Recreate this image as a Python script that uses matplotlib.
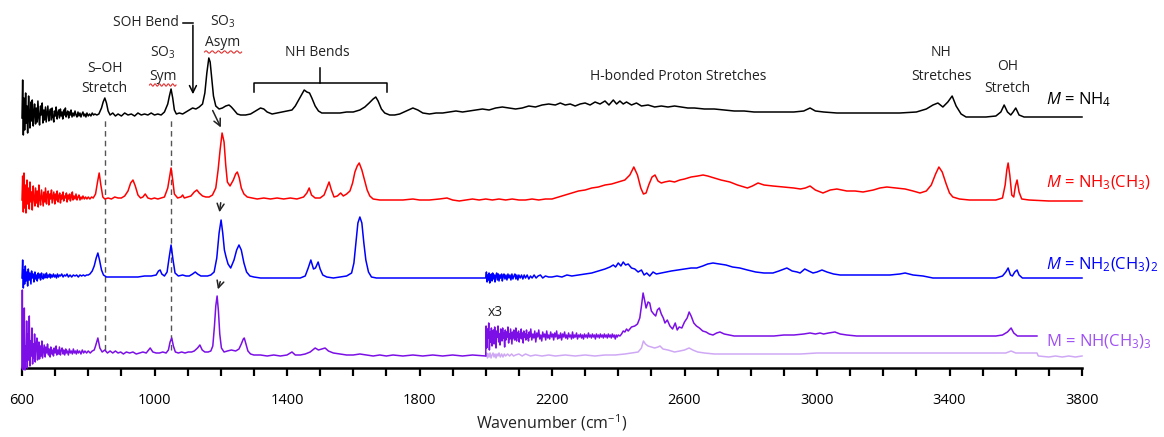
import numpy as np
import matplotlib
matplotlib.use("Agg")
import matplotlib.pyplot as plt

plt.rcParams['font.family'] = ['Open Sans', 'DejaVu Sans']
plt.rcParams['mathtext.fontset'] = 'custom'
plt.rcParams['mathtext.rm'] = 'Open Sans'
plt.rcParams['mathtext.it'] = 'Open Sans:italic'
plt.rcParams['mathtext.default'] = 'regular'

# ---------------- data: (wavenumber cm-1, intensity above trace baseline) ----------------
nh4 = [(600,0),(602,38),(604,-17),(606,20),(608,-12),(611,25),(613,-5),(615,12),(617,-15),(620,22),(622,2),
       (624,-10),(627,16),(629,-3),(631,18),(634,-8),(636,6),(638,14),(641,-6),(643,10),(646,-4),(648,17),
       (651,0),(653,-7),(656,12),(658,3),(661,15),(663,-5),(666,8),(668,-2),(671,11),(673,-4),(676,6),(678,12),
       (681,-3),(683,5),(686,9),(688,-2),(691,10),(693,1),(696,-4),(698,7),(701,2),(703,11),(706,-1),(708,5),
       (711,8),(713,0),(716,9),(718,2),(721,6),(723,-1),(726,8),(728,3),(731,10),(733,1),(736,5),(738,7),
       (741,0),(743,6),(746,3),(748,8),(751,1),(754,5),(757,2),(760,7),(763,3),(766,1),(769,6),(772,2),(775,5),
       (778,1),(781,4),(784,6),(787,2),(790,4),(793,1),(796,5),(800,2),(804,4),(808,2),(812,5),(816,3),(820,4),
       (826,3),(832,4),(840,10),(845,16),(850,20),(855,15),
       (860,7),(866,3),(874,5),(882,2),(890,4),(900,2),(910,5),(920,3),(930,4),(940,2),(950,5),(960,3),
       (970,4),(980,3),(990,5),(1000,3),(1010,4),(1020,3),(1030,6),(1040,14),(1045,22),(1050,29),(1055,20),
       (1060,8),(1066,4),(1075,5),(1085,4),(1095,6),(1105,8),(1115,10),(1125,9),(1135,11),(1145,14),(1152,25),
       (1158,45),(1164,60),(1168,56),(1172,42),(1178,22),(1185,12),(1195,9),(1205,10),(1215,12),(1225,13),
       (1232,11),(1240,8),(1250,4),(1260,3),(1275,3),(1290,4),(1300,6),(1310,8),(1320,10),(1330,9),(1340,6),
       (1355,4),(1370,5),(1385,6),(1400,7),(1415,8),(1425,12),(1435,18),(1445,24),(1452,28),(1460,26),
       (1468,25),(1475,20),(1485,12),(1495,7),(1505,5),(1520,5),(1540,5),(1560,5),(1580,6),(1600,6),(1620,8),
       (1635,11),(1648,15),(1660,19),(1668,21),(1675,17),(1685,9),(1695,5),(1710,3),(1725,3),(1740,4),
       (1760,7),(1780,10),(1795,8),(1810,5),(1830,4),(1850,5),(1870,5),(1890,6),(1910,7),(1930,6),(1950,7),
       (1970,8),(1990,9),(2010,8),(2030,10),(2050,11),(2070,10),(2090,9),(2110,10),(2130,12),(2150,11),
       (2170,13),(2190,14),(2210,13),(2225,15),(2240,13),(2255,14),(2270,12),(2285,14),(2300,15),(2315,13),
       (2330,16),(2345,14),(2360,17),(2372,13),(2385,18),(2395,14),(2405,17),(2415,14),(2425,16),(2440,13),
       (2455,15),(2470,12),(2490,13),(2510,11),(2530,12),(2550,11),(2570,12),(2590,11),(2610,10),(2630,10),
       (2660,9),(2690,9),(2720,8),(2750,7),(2780,7),(2810,6),(2840,6),(2870,6),(2900,6),(2930,6),(2960,7),
       (2979,10),(2995,7),(3020,6),(3060,5),(3100,5),(3150,5),(3200,5),(3250,5),(3300,6),(3330,9),(3350,13),
       (3365,15),(3380,11),(3395,16),(3408,22),(3420,12),(3435,4),(3450,1),(3480,1),(3510,1),(3540,2),
       (3555,6),(3565,13),(3575,6),(3585,3),(3592,6),(3600,10),(3610,3),(3625,1),(3660,1),(3700,1),(3740,1),
       (3800,1)]

nh3ch3 = [(600,0),(602,24),(604,-12),(606,27),(608,-8),(610,15),(612,-13),(615,20),(617,-4),(619,12),
       (622,-9),(624,18),(627,-2),(629,8),(631,-10),(634,14),(636,2),(639,-6),(641,12),(644,-3),(646,9),
       (649,-7),(651,15),(654,0),(656,-5),(659,10),(661,4),(664,-6),(666,8),(669,-2),(671,12),(674,-4),
       (676,5),(679,9),(681,-5),(684,6),(686,1),(689,10),(691,-3),(694,4),(696,8),(699,-4),(701,6),(704,0),
       (706,9),(709,-2),(711,4),(714,7),(716,-3),(719,5),(721,1),(724,8),(726,-1),(729,4),(731,2),(734,7),
       (736,-2),(739,5),(741,1),(744,6),(746,-1),(749,3),(752,8),(754,0),(757,4),(760,1),(763,6),(766,0),
       (769,3),(772,5),(775,0),(778,3),(781,1),(784,4),(788,1),(792,3),(796,1),(800,3),(805,1),(810,3),
       (815,2),(822,6),(828,18),(833,27),(838,15),(844,3),(850,1),(860,2),(870,1),
       (880,3),(890,2),(900,2),(910,4),(920,9),(928,17),(935,20),(942,14),(950,5),(958,2),(965,3),(972,6),
       (980,2),(990,1),(1000,2),(1010,1),(1020,2),(1030,3),(1040,12),(1045,22),(1050,32),(1055,20),(1060,6),
       (1070,2),(1080,3),(1085,5),(1090,2),(1100,3),(1110,4),(1120,8),(1128,10),(1135,7),(1145,4),(1155,3),
       (1165,3),(1175,5),(1185,12),(1192,30),(1198,50),(1204,67),(1210,58),(1215,35),(1220,18),(1228,14),
       (1238,20),(1245,26),(1250,28),(1256,22),(1262,12),(1270,6),(1280,3),(1295,2),(1310,1),(1330,2),
       (1350,1),(1370,2),(1390,1),(1410,2),(1430,1),(1450,3),(1460,7),(1467,12),(1474,5),(1485,2),(1500,2),
       (1512,5),(1520,12),(1527,18),(1534,10),(1542,3),(1552,4),(1562,7),(1570,4),(1580,6),(1590,9),
       (1598,17),(1605,28),(1612,34),(1618,37),(1626,30),(1634,20),(1642,10),(1650,4),(1660,1),(1680,0),
       (1700,0),(1720,0),(1750,0),(1780,1),(1800,0),(1830,0),(1860,1),(1883,2),(1900,0),(1920,-1),(1940,0),
       (1960,1),(1980,0),(2000,1),(2020,0),(2040,1),(2060,0),(2080,1),(2100,0),(2120,0),(2140,1),(2160,0),
       (2180,1),(2200,1),(2220,3),(2240,5),(2260,7),(2280,9),(2300,10),(2320,12),(2340,13),(2360,15),
       (2380,16),(2400,18),(2420,20),(2435,25),(2447,33),(2458,25),(2468,12),(2476,6),(2484,7),(2492,15),
       (2502,23),(2511,25),(2520,19),(2530,17),(2540,18),(2555,19),(2570,18),(2586,20),(2600,21),(2620,23),
       (2640,24),(2656,25),(2670,24),(2690,22),(2710,20),(2737,18),(2760,15),(2780,13),(2790,12),(2805,14),
       (2822,17),(2840,15),(2867,14),(2900,13),(2930,12),(2950,11),(2965,12),(2979,14),(2995,10),(3018,7),
       (3040,10),(3060,11),(3090,9),(3115,9),(3139,8),(3170,10),(3190,12),(3211,13),(3240,12),(3266,11),
       (3290,9),(3311,7),(3330,9),(3345,15),(3358,26),(3368,33),(3378,28),(3390,16),(3400,7),(3410,3),
       (3430,1),(3460,0),(3500,0),(3540,0),(3560,2),(3568,15),(3573,30),(3577,37),(3582,25),(3588,5),
       (3594,3),(3599,14),(3604,20),(3610,8),(3618,1),(3640,0),(3700,-1),(3750,-1),(3800,-1)]

nh2ch32 = [(600,0),(602,18),(604,-10),(606,8),(608,-6),(610,12),(612,-3),(615,6),(617,-8),(619,9),(622,-2),
       (624,5),(627,-6),(629,7),(631,0),(634,4),(636,-4),(639,6),(641,-1),(644,3),(646,-3),(649,5),(651,0),
       (654,4),(656,-2),(659,5),(661,1),(664,-1),(666,4),(669,0),(671,3),(674,5),(676,0),(679,3),(681,1),
       (684,4),(686,0),(689,3),(692,1),(695,4),(698,1),(701,3),(704,0),(707,4),(710,1),(713,3),(716,2),
       (720,4),(724,1),(728,3),(732,2),(736,4),(740,1),(745,3),(750,1),(755,3),(760,2),(765,3),(770,1),
       (775,3),(780,2),(785,3),(790,2),(795,3),(800,3),(805,4),(812,7),(818,12),(824,20),
       (829,25),(834,18),(840,8),(846,3),(855,1),(870,1),
       (890,1),(910,1),(930,1),(950,1),(970,2),(990,2),(1005,3),(1012,7),(1017,8),(1022,4),(1030,2),
       (1038,6),(1044,20),(1050,33),(1056,18),(1062,5),(1072,2),(1085,3),(1095,2),(1105,2),(1115,4),
       (1123,6),(1130,4),(1140,2),(1150,2),(1160,2),(1170,3),(1180,6),(1188,20),(1195,45),(1201,58),
       (1206,45),(1211,28),(1216,21),(1222,14),(1230,10),(1240,18),(1248,28),(1255,33),(1262,28),(1270,15),
       (1278,6),(1288,2),(1300,1),(1320,0),(1350,0),(1380,0),(1410,0),(1440,0),(1455,2),(1464,10),
       (1472,18),(1480,9),(1486,10),(1494,16),(1500,9),(1508,3),(1520,1),(1540,0),(1560,1),(1580,2),
       (1595,5),(1602,15),(1608,35),(1614,55),(1620,61),(1626,55),(1632,35),(1638,18),(1646,6),(1655,1),
       (1670,0),(1700,0),(1750,0),(1800,0),(1850,0),(1900,0),(1950,0),(2000,0),(2002,6),(2004,-4),(2006,3),
       (2008,-2),(2010,5),(2012,-5),(2014,2),(2017,4),(2019,-3),(2021,5),(2023,-1),(2026,3),(2028,-4),
       (2030,2),(2033,5),(2035,-2),(2038,4),(2040,-3),(2043,3),(2045,0),(2048,4),(2050,-3),(2053,2),(2055,4),
       (2058,-1),(2061,3),(2064,-2),(2067,4),(2070,0),(2073,3),(2076,-2),(2079,4),(2082,-1),(2085,2),
       (2088,4),(2091,-1),(2094,3),(2097,-2),(2100,3),(2104,0),(2108,3),(2112,-1),(2116,3),(2120,0),
       (2125,3),(2130,-1),(2135,2),(2140,0),(2146,3),(2152,0),(2158,2),(2165,3),(2172,0),(2180,2),(2190,1),
       (2200,1),(2215,2),(2230,1),
       (2245,3),(2260,2),(2280,3),(2300,4),(2320,5),(2340,7),(2360,9),(2375,11),(2385,13),(2392,11),
       (2400,15),(2408,12),(2415,16),(2422,13),(2430,14),(2440,10),(2450,9),(2460,6),(2470,8),(2478,3),
       (2486,5),(2495,2),(2505,6),(2515,4),(2530,5),(2545,6),(2560,7),(2580,8),(2600,9),(2620,10),
       (2637,10),(2655,12),(2670,14),(2686,15),(2705,14),(2725,13),(2745,11),(2767,10),(2790,8),(2815,6),
       (2840,5),(2867,5),(2885,7),(2909,10),(2925,7),(2940,6),(2949,5),(2963,9),(2975,7),(2988,5),(3000,6),
       (3015,8),(3030,6),(3050,4),(3070,3),(3100,3),(3140,3),(3180,3),(3220,3),(3250,4),(3266,5),(3290,3),
       (3320,2),(3350,0),(3400,0),(3450,0),(3500,0),(3540,0),(3560,2),(3570,6),(3577,10),(3584,3),(3590,2),
       (3597,6),(3604,8),(3610,3),(3620,0),(3660,0),(3700,0),(3750,0),(3800,0)]

nhch33_low = [(600,-12),(601,66),(602,-14),(604,30),(605,-10),(607,48),(609,-14),(611,10),(613,-5),(614,35),
       (616,-12),(618,22),(620,-4),(622,40),(624,-10),(626,15),(628,0),(630,28),(632,-8),(634,12),(636,-2),
       (638,22),(640,-6),(642,8),(645,18),(647,-4),(649,6),(651,14),(653,-3),(656,10),(658,0),(660,15),
       (662,-2),(665,6),(667,11),(670,-1),(672,9),(675,3),(677,12),(680,1),(682,7),(685,-1),(687,9),(690,2),
       (692,6),(695,0),(697,8),(700,3),(703,10),(705,1),(708,6),(711,2),(713,9),(716,1),(718,5),(721,8),
       (724,2),(726,6),(729,1),(732,7),(734,3),(737,5),(740,1),(743,7),(746,3),(749,5),(752,2),(755,7),
       (758,3),(761,5),(764,2),(767,6),(770,3),(774,5),(778,2),(782,6),(786,3),(790,5),(795,3),(800,5),
       (806,3),(812,5),(818,6),(822,10),(829,18),
       (835,8),(842,4),(850,6),(858,3),(866,5),(874,3),(882,5),(890,3),(898,4),(906,2),(915,4),(925,3),
       (935,4),(945,2),(955,3),(965,4),(975,3),(987,8),(995,4),(1005,3),(1015,3),(1025,4),(1035,3),(1042,6),
       (1047,14),(1052,18),(1057,10),(1063,4),(1072,3),(1082,4),(1092,3),(1102,4),(1112,4),(1120,5),
       (1130,8),(1137,11),(1144,6),(1152,4),(1162,4),(1170,5),(1176,10),(1181,30),(1185,50),(1189,60),
       (1193,45),(1197,22),(1202,8),(1210,4),(1220,5),(1232,6),(1245,5),(1255,7),(1262,12),(1268,17),
       (1271,18),(1276,12),(1282,5),(1290,2),(1300,1),(1320,1),(1340,0),(1360,1),(1380,0),(1400,1),
       (1415,4),(1425,1),(1440,1),(1455,2),(1470,4),(1485,8),(1495,6),(1505,7),(1515,8),(1525,5),(1540,3),
       (1560,2),(1580,1),(1600,1),(1620,2),(1640,1),(1660,0),(1680,1),(1700,0),(1720,1),(1750,0),(1780,1),
       (1810,0),(1840,1),(1870,0),(1900,1),(1930,0),(1960,1),(2000,0)]

nhch33_x3 = [(2000,1),(2001,30),(2003,8),(2005,27),(2007,18),(2009,33),(2011,6),(2013,24),(2015,14),
       (2017,28),(2019,10),(2021,22),(2023,26),(2025,12),(2027,29),(2029,17),(2031,8),(2033,25),(2035,19),
       (2037,30),(2039,14),(2041,22),(2043,11),(2045,27),(2047,20),(2049,15),(2051,28),(2053,18),(2055,23),
       (2057,9),(2059,26),(2061,16),(2063,24),(2065,19),(2067,29),(2069,13),(2071,22),(2073,17),(2075,27),
       (2077,20),(2079,12),(2081,24),(2083,18),(2085,26),(2087,16),(2089,21),(2091,28),(2093,15),(2095,23),
       (2097,19),(2099,25),(2101,14),(2103,22),(2105,18),(2107,27),(2109,17),(2111,23),(2113,13),(2115,25),
       (2117,19),(2119,22),(2121,16),(2123,26),(2125,18),(2127,21),(2129,15),(2131,24),(2133,19),(2136,27),
       (2139,16),(2142,22),(2145,18),(2148,25),(2151,14),(2154,23),(2157,19),(2160,26),(2163,17),(2166,21),
       (2169,15),(2172,24),(2175,19),(2178,22),(2181,16),(2184,25),(2187,18),(2190,21),(2193,17),(2196,24),
       (2199,19),(2202,22),(2205,16),(2208,23),(2211,19),(2214,25),(2217,17),(2220,21),(2223,18),(2226,23),
       (2229,16),(2232,22),(2235,19),(2238,24),(2241,18),(2244,21),(2247,17),(2250,23),(2253,19),(2256,21),
       (2259,17),(2262,24),(2265,18),(2268,21),(2271,19),(2274,23),(2277,17),(2280,21),(2283,19),(2286,22),
       (2289,18),(2292,21),(2295,17),(2298,22),(2301,19),(2304,21),(2307,18),(2310,23),(2313,19),(2316,21),
       (2319,18),(2322,22),(2325,19),(2328,21),(2331,17),(2334,22),(2337,19),(2340,21),(2343,18),(2346,22),
       (2349,19),(2352,21),(2355,18),(2358,22),(2361,19),(2364,21),(2367,18),(2370,22),(2373,19),(2376,21),
       (2379,18),(2382,22),(2385,19),(2388,21),(2391,17),(2394,21),(2397,19),(2400,21),(2405,20),
       (2410,22),(2415,25),(2420,24),(2425,27),(2430,25),(2440,29),(2450,30),
       (2458,32),(2465,38),(2470,50),(2475,63),(2480,55),(2484,48),(2490,54),(2495,53),(2500,45),(2507,42),
       (2513,40),(2518,46),(2524,48),(2530,42),(2536,38),(2541,33),(2548,36),(2556,30),(2564,27),(2572,33),
       (2578,26),(2584,29),(2592,28),(2600,34),(2608,38),(2614,44),(2620,40),(2628,33),(2636,30),(2645,28),
       (2655,25),(2665,24),(2675,22),(2686,21),(2697,23),(2707,24),(2720,22),(2735,21),(2750,20),(2780,20),
       (2810,20),(2840,20),(2870,20),(2900,21),(2930,21),(2960,22),(2979,23),(2995,22),(3009,23),(3020,22),
       (3035,23),(3054,24),(3070,22),(3090,21),(3120,20),(3160,20),(3200,20),(3250,20),(3300,20),(3350,20),
       (3400,20),(3450,20),(3500,20),(3540,20),(3560,21),(3575,24),(3586,28),(3594,23),(3605,20),(3630,20),
       (3664,20)]

nhch33_x1 = [(2000,0),(2003,3),(2005,-2),(2008,2),(2010,-1),(2013,3),(2016,-2),(2019,1),(2022,3),(2025,-1),
       (2028,2),(2031,-2),(2034,2),(2037,0),(2040,3),(2044,-1),(2048,2),(2052,-1),(2056,2),(2060,0),(2066,2),
       (2072,0),(2078,2),(2084,0),(2090,1),(2100,2),(2110,0),(2120,2),
       (2135,0),(2150,1),(2170,0),(2190,1),(2210,0),(2240,1),(2270,0),(2300,1),(2330,0),(2360,1),(2390,1),
       (2420,2),(2440,3),(2460,4),(2470,8),(2476,15),(2482,12),(2490,10),(2500,9),(2510,8),(2520,9),
       (2526,10),(2535,7),(2550,6),(2570,4),(2586,5),(2600,6),(2614,8),(2625,6),(2640,4),(2660,3),(2690,2),
       (2720,2),(2760,2),(2800,2),(2850,2),(2900,2),(2950,2),(3000,3),(3050,3),(3100,3),(3200,3),(3300,3),
       (3400,3),(3500,3),(3570,3),(3586,5),(3600,3),(3650,3),(3664,3),(3668,0),(3700,-1),(3720,0),
       (3740,-1),(3760,0),(3780,-1),(3800,0)]

x_ticks = [600, 1000, 1400, 1800, 2200, 2600, 3000, 3400, 3800]

# ---------------- figure ----------------
W, H = 1164, 437
fig = plt.figure(figsize=(W/100, H/100), dpi=100)
ax = fig.add_axes([22/W, 69/H, 1060/W, 368/H])
ax.set_xlim(600, 3800)
ax.set_ylim(0, 368)

PURPLE = '#7B0FE6'
LIGHT = '#CFA8F5'
LABELP = '#A050F5'

def draw(data, off, color, lw=1.1, z=3):
    a = np.array(data, dtype=float)
    ax.plot(a[:, 0], a[:, 1] + off, color=color, lw=lw, clip_on=False, zorder=z,
            solid_joinstyle='round')

draw(nh4, 250, 'black')
draw(nh3ch3, 168, '#FF0000')
draw(nh2ch32, 90, '#0000FF')
draw(nhch33_x1, 12, LIGHT, z=2)
draw(nhch33_low, 12, PURPLE)
draw(nhch33_x3, 12, PURPLE)

# dashed guide lines
for w in (850, 1050):
    ax.plot([w, w], [18, 248], color='#555555', lw=1.0, ls=(0, (4, 3)), zorder=1)

# spines & ticks
for s in ('left', 'right', 'top'):
    ax.spines[s].set_visible(False)
ax.spines['bottom'].set_linewidth(1.8)
ax.set_yticks([])
ax.set_xticks(x_ticks)
ax.set_xticks(np.arange(600, 3801, 100), minor=True)
ax.tick_params(axis='x', which='both', direction='out', length=6, width=1.6, color='black')
ax.tick_params(axis='x', which='major', labelsize=10.5, pad=12)
ax.set_xlabel('Wavenumber (cm$^{\u22121}$)', fontsize=11.5, labelpad=3, color='#222222')

tk = dict(ha='center', va='center', fontsize=10, color='#222222')
ax.text(850, 300, 'S\u2013OH', **tk)
ax.text(850, 279, 'Stretch', **tk)
ax.text(1025, 315, 'SO$_3$', **tk)
ax.text(1025, 292, 'Sym', **tk)
ax.text(974, 346, 'SOH Bend', **tk)
ax.text(1206, 346, 'SO$_3$', **tk)
ax.text(1206, 325, 'Asym', **tk)
ax.text(1493, 316, 'NH Bends', **tk)
ax.text(2580, 291, 'H-bonded Proton Stretches', **tk)
ax.text(3375, 315, 'NH', **tk)
ax.text(3375, 292, 'Stretches', **tk)
ax.text(3575, 301, 'OH', **tk)
ax.text(3575, 279, 'Stretch', **tk)
ax.text(2030, 55, 'x3', **tk)

# red squiggles (spell-check underline)
def squiggle(x0, x1, y):
    xs = np.linspace(x0, x1, 40)
    ax.plot(xs, y + 1.2*np.sin((xs - x0) / (x1 - x0) * 2 * np.pi * 6), color='#E03030', lw=0.8)
squiggle(985, 1065, 283)
squiggle(1151, 1263, 316)

# SOH bend leader
ax.plot([1086, 1116], [345, 345], color='black', lw=1.1)
ax.annotate('', xy=(1116, 271), xytext=(1116, 345.5),
            arrowprops=dict(arrowstyle='->,head_length=0.5,head_width=0.25', color='black', lw=1.1))

# NH bends bracket
ax.plot([1300, 1300, 1702, 1702], [276, 285, 285, 276], color='black', lw=1.1)
ax.plot([1500, 1500], [285, 300], color='black', lw=1.1)

# arrows between SO3 asym peaks
arr = dict(arrowstyle='->,head_length=0.5,head_width=0.25', color='#222222', lw=1.1)
ax.annotate('', xy=(1204, 238), xytext=(1172, 260), arrowprops=arr)
ax.annotate('', xy=(1195, 153), xytext=(1201, 168), arrowprops=arr)
ax.annotate('', xy=(1189, 76), xytext=(1201, 89), arrowprops=arr)

# series labels
ax.text(3690, 268, '$\\mathit{M}$ = NH$_4$', fontsize=12, color='black', va='center', ha='left')
ax.text(3690, 185, '$\\mathit{M}$ = NH$_3$(CH$_3$)', fontsize=12, color='#FF0000', va='center', ha='left')
ax.text(3690, 103, '$\\mathit{M}$ = NH$_2$(CH$_3$)$_2$', fontsize=12, color='#0000FF', va='center', ha='left')
ax.text(3690, 26, 'M = NH(CH$_3$)$_3$', fontsize=12, color=LABELP, va='center', ha='left')

fig.savefig('out.png', dpi=100)
